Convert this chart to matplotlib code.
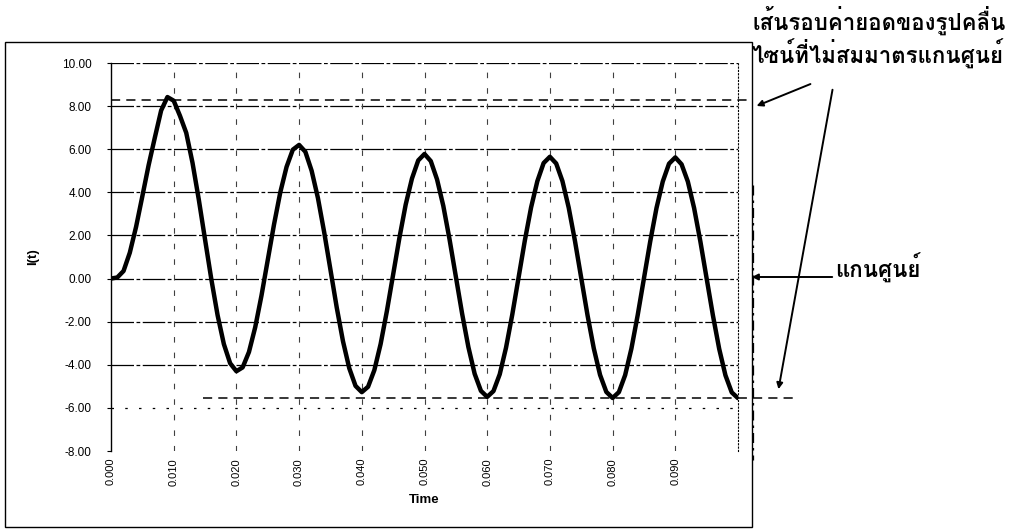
import numpy as np
import matplotlib
matplotlib.use("Agg")
import matplotlib.pyplot as plt
from matplotlib import font_manager, ft2font
from matplotlib.patches import Rectangle, FancyArrowPatch

# --- data ---
time = np.linspace(0.0, 0.100, 101)
current = [0.00, 0.05, 0.35, 1.20, 2.40, 3.82, 5.26, 6.55, 7.80, 8.42,
           8.25, 7.55, 6.76, 5.37, 3.67, 1.81, -0.03, -1.70, -3.04, -3.93,
           -4.30, -4.12, -3.41, -2.26, -0.79, 0.86, 2.51, 4.00, 5.18, 5.98,
           6.20, 5.88, 5.00, 3.74, 2.15, 0.41, -1.34, -2.91, -4.16, -4.98,
           -5.27, -5.02, -4.25, -3.04, -1.51, 0.19, 1.89, 3.43, 4.64, 5.48,
           5.78, 5.45, 4.60, 3.37, 1.81, 0.09, -1.63, -3.18, -4.42, -5.21,
           -5.49, -5.22, -4.44, -3.21, -1.67, 0.04, 1.76, 3.30, 4.52, 5.36,
           5.65, 5.34, 4.52, 3.29, 1.74, 0.02, -1.70, -3.24, -4.47, -5.26,
           -5.54, -5.27, -4.48, -3.25, -1.70, 0.01, 1.72, 3.27, 4.50, 5.33,
           5.62, 5.30, 4.50, 3.27, 1.72, 0.00, -1.71, -3.26, -4.49, -5.28,
           -5.55]
x_ticks = [0.000, 0.010, 0.020, 0.030, 0.040, 0.050, 0.060, 0.070, 0.080, 0.090]
y_ticks = [-8, -6, -4, -2, 0, 2, 4, 6, 8, 10]
upper_envelope = 8.30
lower_envelope = -5.55

label_envelope = ["เส้นรอบค่ายอดของรูปคลื่น", "ไซน์ที่ไม่สมมาตรแกนศูนย์"]
label_zero = "แกนศูนย์"


# find a font that has thai glyphs
def thai_font():
    for f in font_manager.fontManager.ttflist:
        try:
            cmap = ft2font.FT2Font(f.fname).get_charmap()
        except Exception:
            continue
        if 0x0E01 in cmap and 0x0E40 in cmap:
            return f.name
    return None


thai = thai_font()
thai_family = [thai, "DejaVu Sans"] if thai else ["DejaVu Sans"]

plt.rcParams["font.family"] = ["Liberation Sans", "DejaVu Sans"]

W, H = 1024, 530
fig = plt.figure(figsize=(W / 100, H / 100), dpi=100)


def px(x, y):
    return (x / W, 1 - y / H)


ax = fig.add_axes([111 / W, 1 - 451 / H, (738 - 111) / W, (451 - 63) / H])

# grid
for yv in y_ticks:
    if yv == -8:
        continue
    ls = (0, (18, 2, 3, 2)) if yv != -6 else (0, (2, 9))
    ax.axhline(yv, color="black", lw=0.9, ls=ls, zorder=1)
for xv in x_ticks[1:]:
    ax.axvline(xv, color="0.25", lw=0.8, ls=(0, (5, 9)), zorder=1)

ax.plot(time, current, color="black", lw=3.2, solid_joinstyle="round",
        solid_capstyle="round", zorder=3)

# envelope lines (dashed)
ax.plot([0.0, 0.1018], [upper_envelope, upper_envelope], color="black",
        lw=1.1, ls=(0, (6, 4)), clip_on=False, zorder=2)
ax.plot([0.0147, 0.1094], [lower_envelope, lower_envelope], color="black",
        lw=1.1, ls=(0, (6, 4)), clip_on=False, zorder=2)

ax.set_xlim(0, 0.1)
ax.set_ylim(-8, 10)
ax.set_xticks(x_ticks)
ax.set_xticklabels(["%.3f" % v for v in x_ticks], rotation=90, fontsize=8)
ax.set_yticks(y_ticks)
ax.set_yticklabels(["%.2f" % v for v in y_ticks], fontsize=8.5)
ax.tick_params(axis="y", length=3, width=0.8, pad=11)
ax.tick_params(axis="x", length=0, pad=5)

for s in ["top", "bottom"]:
    ax.spines[s].set_visible(False)
ax.spines["left"].set_linewidth(1.0)
ax.spines["right"].set_linestyle((0, (1, 2)))
ax.spines["right"].set_linewidth(0.8)

ax.set_xlabel("Time", fontsize=9.5, fontweight="bold", labelpad=6)
ax.set_ylabel("I(t)", fontsize=9.5, fontweight="bold", labelpad=16)

# outer chart frame
fig.patches.append(Rectangle(px(5, 527), (752 - 5) / W, (527 - 42) / H,
                             transform=fig.transFigure, fill=False,
                             edgecolor="black", lw=1.0))
# dash-dot line to the right of the plot
fig.add_artist(plt.Line2D([753 / W, 753 / W], [1 - 185 / H, 1 - 460 / H],
                          transform=fig.transFigure, color="black", lw=0.9,
                          ls=(0, (8, 4, 2, 4))))

# annotations
fig.text(*px(752, 20), label_envelope[0], family=thai_family,
         fontweight="bold", fontsize=16, va="center", ha="left")
fig.text(*px(752, 54), label_envelope[1], family=thai_family,
         fontweight="bold", fontsize=16, va="center", ha="left")
fig.text(*px(835, 268), label_zero, family=thai_family,
         fontweight="bold", fontsize=16, va="center", ha="left")

arrow = dict(arrowstyle="-|>", color="black", lw=1.4, mutation_scale=9)
fig.add_artist(FancyArrowPatch(px(813, 83), px(754, 107),
                               transform=fig.transFigure, **arrow))
fig.add_artist(FancyArrowPatch(px(833, 87), px(778, 392),
                               transform=fig.transFigure, **arrow))
fig.add_artist(FancyArrowPatch(px(835, 277), px(749, 277),
                               transform=fig.transFigure, **arrow))

fig.savefig("out.png", dpi=100)
